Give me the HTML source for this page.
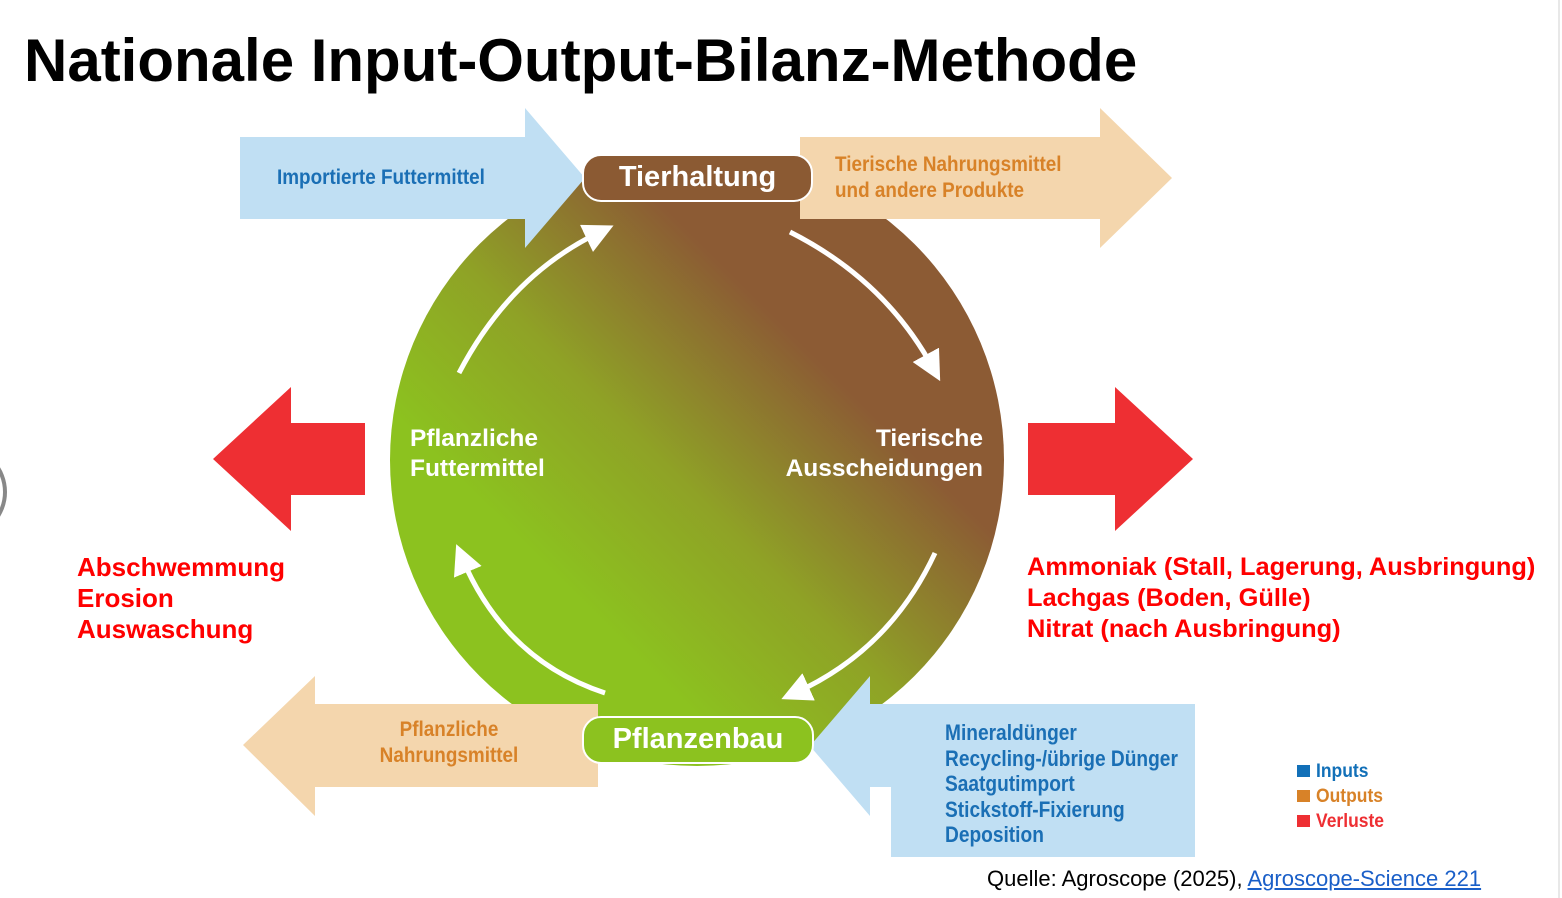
<!DOCTYPE html>
<html><head><meta charset="utf-8"><style>
body{margin:0;width:1562px;height:898px;background:#fff;overflow:hidden;position:relative;font-family:"Liberation Sans",sans-serif}
.t{position:absolute;white-space:nowrap}
</style></head><body>
<svg width="1562" height="898" style="position:absolute;left:0;top:0">
<defs>
<linearGradient id="g" x1="0.2" y1="0.8" x2="0.8" y2="0.2">
<stop offset="0.15" stop-color="#8cc21f"/><stop offset="0.45" stop-color="#8fa226"/><stop offset="0.8" stop-color="#8c5b34"/></linearGradient>
<marker id="a" markerWidth="6" markerHeight="6" refX="3" refY="3" orient="auto" markerUnits="strokeWidth"><path d="M0,0 L6,3 L0,6 z" fill="#fff"/></marker>
</defs>
<rect x="1558" y="0" width="2" height="898" fill="#e8e8e8"/>
<circle cx="-40" cy="492" r="45" fill="none" stroke="#888" stroke-width="4"/>
<ellipse cx="697" cy="460" rx="307" ry="306" fill="url(#g)"/>
<polygon points="240,137 525,137 525,108 585,178 525,248 525,219 240,219" fill="#c0dff3"/>
<polygon points="800,137 1100,137 1100,108 1172,178 1100,248 1100,219 800,219" fill="#f4d6ad"/>
<polygon points="213,459 291,387 291,423 365,423 365,495 291,495 291,531" fill="#ee2f33"/>
<polygon points="1193,459 1115,387 1115,423 1028,423 1028,495 1115,495 1115,531" fill="#ee2f33"/>
<polygon points="243,745 315,676 315,704 598,704 598,787 315,787 315,816" fill="#f4d6ad"/>
<polygon points="810,746 870,676 870,704 1195,704 1195,857 891,857 891,787 870,787 870,816" fill="#c0dff3"/>
<g fill="none" stroke="#fff" stroke-width="5">
<path d="M459,373 Q510,275 600,232" marker-end="url(#a)"/>
<path d="M790,232 Q885,280 933,368" marker-end="url(#a)"/>
<path d="M935,553 Q890,650 795,693" marker-end="url(#a)"/>
<path d="M605,693 Q505,660 462,558" marker-end="url(#a)"/>
</g>
<rect x="583" y="155" width="229" height="46" rx="18" fill="#8b5a33" stroke="#fff" stroke-width="2"/>
<rect x="583" y="717" width="230" height="46" rx="18" fill="#8cc21f" stroke="#fff" stroke-width="2"/>
<rect x="1297" y="765" width="13" height="12" fill="#1270b8"/>
<rect x="1297" y="790" width="13" height="12" fill="#d88228"/>
<rect x="1297" y="815" width="13" height="12" fill="#ee2f33"/>
</svg>
<div class="t" style="left:24px;top:26px;font-size:60px;font-weight:bold;color:#000">Nationale Input-Output-Bilanz-Methode</div>
<div class="t" style="left:277px;top:166px;font-size:21px;font-weight:bold;color:#1a6fb5;transform:scaleX(.9);transform-origin:left">Importierte Futtermittel</div>
<div class="t" style="left:835px;top:152px;font-size:21px;font-weight:bold;color:#d88228;line-height:26px;transform:scaleX(.9);transform-origin:left">Tierische Nahrungsmittel<br>und andere Produkte</div>
<div class="t" style="left:583px;top:161px;width:229px;text-align:center;font-size:29px;font-weight:bold;color:#fff">Tierhaltung</div>
<div class="t" style="left:583px;top:723px;width:230px;text-align:center;font-size:29px;font-weight:bold;color:#fff">Pflanzenbau</div>
<div class="t" style="left:410px;top:424px;font-size:24.5px;font-weight:bold;color:#fff;line-height:30px">Pflanzliche<br>Futtermittel</div>
<div class="t" style="left:740px;top:424px;width:243px;text-align:right;font-size:24.5px;font-weight:bold;color:#fff;line-height:30px">Tierische<br>Ausscheidungen</div>
<div class="t" style="left:339px;top:717px;width:220px;text-align:center;font-size:21px;font-weight:bold;color:#d88228;line-height:26px;transform:scaleX(.9)">Pflanzliche<br>Nahrungsmittel</div>
<div class="t" style="left:945px;top:720px;font-size:22px;font-weight:bold;color:#1a6fb5;line-height:25.5px;transform:scaleX(.87);transform-origin:left">Mineraldünger<br>Recycling-/übrige Dünger<br>Saatgutimport<br>Stickstoff-Fixierung<br>Deposition</div>
<div class="t" style="left:77px;top:552px;font-size:26px;font-weight:bold;color:#f00;line-height:31px">Abschwemmung<br>Erosion<br>Auswaschung</div>
<div class="t" style="left:1027px;top:552px;font-size:25.4px;font-weight:bold;color:#f00;line-height:31px">Ammoniak (Stall, Lagerung, Ausbringung)<br>Lachgas (Boden, Gülle)<br>Nitrat (nach Ausbringung)</div>
<div class="t" style="left:1316px;top:759px;font-size:19px;font-weight:bold;line-height:25px;transform:scaleX(.92);transform-origin:left"><span style="color:#1270b8">Inputs</span><br><span style="color:#d88228">Outputs</span><br><span style="color:#ee2f33">Verluste</span></div>
<div class="t" style="left:987px;top:866px;font-size:22px;color:#000">Quelle: Agroscope (2025), <span style="color:#1a5fc8;text-decoration:underline">Agroscope-Science 221</span></div>
</body></html>
